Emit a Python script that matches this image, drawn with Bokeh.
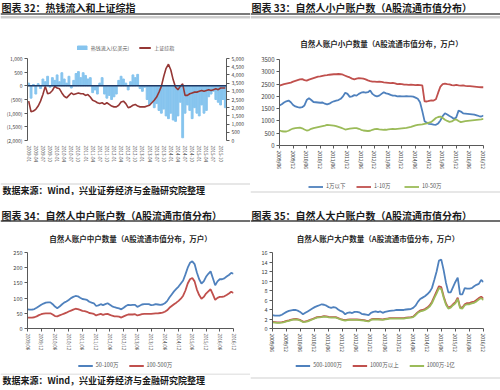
from bokeh.plotting import figure
from bokeh.models import (Range1d, LinearAxis, FixedTicker, NumeralTickFormatter, Span, Label,
                          Title, Legend, LegendItem)
from bokeh.layouts import column, row
from bokeh.embed import file_html
from bokeh.resources import INLINE

FONT = "Noto Sans CJK SC"
NAN = float("nan")

# ---------------- data: chart 32 (hot money inflow, SSE composite) ----------------
labels32 = ["2009-01", "2009-04", "2009-07", "2009-10", "2010-01", "2010-04", "2010-07", "2010-10",
            "2011-01", "2011-04", "2011-07", "2011-10", "2012-01", "2012-04", "2012-07", "2012-10",
            "2013-01", "2013-04", "2013-07", "2013-10", "2014-01", "2014-04", "2014-07", "2014-10",
            "2015-01", "2015-04", "2015-07", "2015-10"]
inflow = [100, -450, 50, -300, 80, -100, 250, 150, 350, -50,
          300, 200, 400, 150, 480, 250, 100, 350, -80, 200,
          450, 520, 300, 480, 380, 250, 300, -250, -150, -300,
          100, 300, -300, -450, -350, -500, -400, -300, 200, 350,
          250, 100, -150, 150, 400, 300, 420, -100, -200, -50,
          -500, -700, -600, -800, -650, -900, -1000, -850, -1100, -1200,
          -1000, -1250, -1300, -1100, -600, -1900, -1000, -700, -900, -1200,
          -800, -1000, -1100, -700, -1000, -900, -400, -300, -200, -500,
          -600, -700, -500, -800]
sse = [2400, 1750, 1800, 1900, 2100, 2400, 2800, 3300, 2850, 2900,
       3050, 3300, 3200, 3150, 2900, 2700, 2600, 2750, 2900, 2800,
       2850, 2900, 2850, 2850, 2750, 2800, 2650, 2450, 2400, 2300,
       2250, 2300, 2200, 2300, 2200, 2100, 2050, 2050, 2150, 2350,
       2400, 2250, 2000, 2050, 2150, 2200, 2100, 2050, 2050, 2050,
       2100, 2150, 2300, 2450, 2650, 2950, 3300, 3900, 4400, 4650,
       4300, 3700, 3250, 3100, 3300, 3450, 2750, 2750, 2850, 2900,
       2950, 2950, 3000, 3050, 3000, 3050, 3100, 3050, 3100, 3150,
       3100, 3200, 3200, 3200]
idx32 = list(range(len(inflow)))

# ---------------- data: charts 33-35 (monthly, 2009/06 - 2016/12) ----------------
tick_labels = ["2009/06", "2009/12", "2010/06", "2010/12", "2011/06", "2011/12", "2012/06", "2012/12",
               "2013/06", "2013/12", "2014/06", "2014/12", "2015/06", "2015/12", "2016/06", "2016/12"]

small_blue = [1630, 1680, 1750, 1800, 1830, 1760, 1650, 1590, 1560, 1540,
              1560, 1630, 1850, 1920, 1850, 1770, 1760, 1750, 1740, 1750,
              1700, 1670, 1700, 1760, 1800, 1830, 1850, 1900, 2000, 2150,
              2100, 1980, 2000, 2050, 2030, 2100, 2150, 2170, 2150, 2170,
              2240, 2100, 2030, 2000, 2030, 2100, 2170, 2120, 2100, 2060,
              2030, 2030, 2000, 2010, 2000, 2000, 2010, 2000, 2000, 1990,
              1950, 1900, 1760, 1400, 990, 930, 880, 870, 850, 840,
              900, 1020, 1200, 1310, 1260, 1200, 1150, 1080, 1150, 1420,
              1380, 1310, 1300, 1290, 1280, 1270, 1260, 1230, 1200, 1180,
              1220]
small_red = [2440, 2470, 2500, 2520, 2540, 2560, 2600, 2630, 2660, 2690,
             2700, 2660, 2640, 2680, 2710, 2740, 2770, 2800, 2810, 2830,
             2850, 2860, 2880, 2890, 2900, 2900, 2910, 2900, 2880, 2840,
             2800, 2770, 2720, 2690, 2720, 2740, 2730, 2720, 2690, 2650,
             2620, 2600, 2600, 2590, 2600, 2590, 2570, 2560, 2550, 2540,
             2550, 2530, 2500, 2510, 2500, 2480, 2480, 2470, 2480, 2470,
             2460, 2470, 2460, 2450, 1800, 1790, 1820, 1840, 1830, 1880,
             2150, 2400, 2500, 2520, 2500, 2490, 2460, 2450, 2470, 2450,
             2440, 2450, 2430, 2420, 2420, 2410, 2400, 2390, 2380, 2370,
             2370]
small_green = [610, 580, 570, 570, 600, 650, 690, 710, 720, 730,
               700, 650, 610, 630, 680, 710, 730, 750, 770, 790,
               810, 840, 830, 820, 810, 790, 760, 730, 690, 650,
               670, 690, 700, 710, 710, 680, 640, 610, 600, 590,
               600, 640, 670, 680, 660, 650, 640, 640, 660, 670,
               680, 670, 680, 690, 700, 710, 720, 740, 760, 790,
               820, 840, 850, 860, 880, 900, 930, 960, 1040, 1120,
               1160, 1180, 1120, 1050, 1000, 960, 980, 1040, 1060, 1000,
               950, 970, 990, 1000, 1010, 1020, 1030, 1040, 1050, 1060,
               1080]
mid_50_100 = [63, 62, 62, 64, 68, 73, 78, 82, 85, 86,
              86, 80, 72, 67, 72, 79, 85, 89, 94, 100,
              104, 107, 106, 101, 97, 96, 94, 88, 85, 83,
              74, 76, 80, 77, 80, 83, 78, 73, 70, 68,
              66, 63, 68, 74, 78, 77, 78, 78, 71, 75,
              79, 80, 80, 80, 77, 78, 80, 79, 78, 79,
              83, 90, 102, 112, 122, 130, 138, 148, 158, 178,
              200, 216, 221, 212, 184, 162, 148, 155, 170, 180,
              188, 165, 142, 155, 162, 162, 165, 171, 176, 183,
              180]
mid_100_500 = [36, 36, 36, 37, 40, 44, 47, 49, 50, 50,
               50, 46, 41, 40, 43, 46, 49, 52, 56, 59,
               62, 65, 64, 61, 58, 57, 55, 51, 50, 48,
               43, 46, 48, 45, 47, 48, 45, 42, 40, 40,
               39, 36, 40, 43, 46, 46, 46, 47, 43, 45,
               47, 48, 48, 48, 48, 49, 50, 50, 51, 52,
               55, 60, 68, 74, 80, 85, 91, 98, 108, 125,
               148, 162, 166, 155, 128, 110, 98, 104, 115, 122,
               129, 112, 94, 101, 104, 104, 106, 110, 115, 121,
               117]
big_500_1000 = [2.8, 2.7, 2.7, 2.7, 2.9, 3.2, 3.5, 3.7, 3.8, 3.9,
                3.9, 3.7, 3.4, 3.0, 3.3, 3.6, 3.9, 4.2, 4.5, 4.7,
                4.9, 5.1, 5.0, 4.8, 4.5, 4.35, 4.5, 4.4, 4.0, 3.7,
                3.5, 3.0, 3.3, 3.4, 3.25, 3.5, 3.5, 3.4, 3.1, 3.0,
                2.9, 2.8, 3.3, 3.5, 3.6, 3.45, 3.6, 3.3, 3.5, 3.6,
                3.7, 3.75, 3.8, 3.9, 3.9, 3.9, 3.9, 4.0, 4.05, 4.1,
                4.35, 4.8, 5.6, 6.2, 6.5, 6.8, 7.2, 7.7, 8.5, 10.2,
                12.0, 14.3, 14.5, 12.3, 9.6, 7.6, 7.6, 8.7, 9.8, 10.7,
                7.2, 7.2, 8.5, 8.4, 8.4, 8.5, 8.9, 9.2, 9.4, 10.2,
                9.8]
big_1000_up = [1.4, 1.35, 1.3, 1.3, 1.35, 1.45, 1.6, 1.7, 1.85, 1.95,
               2.0, 1.9, 1.75, 1.45, 1.5, 1.6, 1.8, 2.0, 2.2, 2.4,
               2.45, 2.5, 2.6, 2.55, 2.45, 2.4, 2.4, 2.4, 2.2, 2.0,
               1.85, 1.75, 1.85, 1.9, 1.9, 1.9, 1.9, 1.85, 1.8, 1.75,
               1.65, 1.6, 1.9, 2.0, 2.0, 2.0, 1.95, 1.9, 2.0, 2.1,
               2.2, 2.2, 2.2, 2.2, 2.2, 2.2, 2.2, 2.3, 2.35, 2.4,
               2.5, 2.95, 3.45, 3.8, 3.9, 4.1, 4.4, 4.85, 5.6, 6.7,
               7.8, 8.9, 8.7, 6.8, 5.25, 4.4, 4.6, 5.1, 5.55, 6.5,
               4.5, 4.4, 5.1, 5.35, 5.35, 5.55, 5.65, 6.0, 6.4, 6.7,
               6.3]
big_1000_1yi = [1.3, 1.25, 1.2, 1.2, 1.25, 1.35, 1.5, 1.6, 1.75, 1.85,
                1.9, 1.8, 1.65, 1.35, 1.4, 1.5, 1.7, 1.9, 2.1, 2.3,
                2.35, 2.4, 2.5, 2.45, 2.35, 2.3, 2.3, 2.3, 2.1, 1.9,
                1.75, 1.65, 1.75, 1.8, 1.8, 1.8, 1.8, 1.75, 1.7, 1.65,
                1.55, 1.5, 1.8, 1.9, 1.9, 1.9, 1.85, 1.8, 1.9, 2.0,
                2.1, 2.1, 2.1, 2.1, 2.1, 2.1, 2.1, 2.2, 2.25, 2.3,
                2.4, 2.8, 3.3, 3.6, 3.7, 3.9, 4.2, 4.6, 5.3, 6.4,
                7.4, 8.5, 8.3, 6.5, 5.0, 4.2, 4.4, 4.9, 5.3, 6.2,
                4.3, 4.2, 4.9, 5.1, 5.1, 5.3, 5.4, 5.7, 6.1, 6.4,
                6.0]
months = list(range(len(small_blue)))

BLUE, RED, GREEN = "#4f81bd", "#c0504d", "#9bbb59"
BAR, SSEC = "#86c4ee", "#953735"
AX = "#595959"
BOX = "#cfcfcf"


def deco(w, h):
    p = figure(width=w, height=h, x_range=Range1d(0, w), y_range=Range1d(h, 0),
               toolbar_location=None, output_backend="svg", title=None,
               x_axis_location=None, y_axis_location=None, min_border=0, frame_align=False)
    p.grid.visible = False
    p.outline_line_color = None
    return p


def add_rules(p, rules):
    for loc, col, lw in rules:
        p.add_layout(Span(location=loc, dimension="width", line_color=col, line_width=lw))


def header(w, h, text, ty, rules):
    p = deco(w, h)
    p.add_layout(Label(x=1, y=ty, text=text, text_baseline="middle", text_align="left",
                       text_font=FONT, text_font_size="10px", text_font_style="bold",
                       text_color="#1a1a1a"))
    add_rules(p, rules)
    return p


def source(w, h, ty, line_y):
    p = deco(w, h)
    add_rules(p, [(line_y, BOX, 1)])
    p.add_layout(Label(x=2, y=ty, text="数据来源：Wind，兴业证券经济与金融研究院整理",
                       text_baseline="middle", text_align="left", text_font=FONT,
                       text_font_size="9px", text_font_style="bold", text_color="#1a1a1a"))
    return p


def legend_fig(w, h, entries, loc, size="5.5px", gw=15, rules=()):
    """entries: (label, kind, color) -- legend keys use stand-in renderers that draw nothing."""
    p = deco(w, h)
    items = []
    for lab, kind, col in entries:
        if kind == "bar":
            r = p.vbar(x=[NAN], top=[NAN], width=1, color=col)
        else:
            r = p.line(x=[NAN], y=[NAN], line_color=col, line_width=1.8)
        items.append(LegendItem(label=lab, renderers=[r]))
    lg = Legend(items=items, orientation="horizontal", location=loc,
                label_text_font=FONT, label_text_font_size=size, label_text_color="#555555",
                glyph_width=gw, glyph_height=5, spacing=10, padding=0, margin=1,
                label_standoff=3, border_line_color=None, background_fill_alpha=0)
    p.add_layout(lg)
    add_rules(p, rules)
    return p


def chart(w, h, left, right, top, bottom, xr, yr):
    p = figure(width=w, height=h, x_range=xr, y_range=yr, toolbar_location=None,
               output_backend="svg", title=None, min_border_left=left, min_border_right=right,
               min_border_top=top, min_border_bottom=bottom, frame_align=False)
    p.grid.visible = False
    p.outline_line_color = None
    p.background_fill_color = "white"
    return p


def style_axis(ax, size):
    ax.axis_line_color = AX
    ax.major_tick_line_color = AX
    ax.minor_tick_line_color = None
    ax.major_tick_in = 0
    ax.major_tick_out = 3
    ax.major_label_text_font = FONT
    ax.major_label_text_font_size = size
    ax.major_label_text_color = "#404040"
    ax.major_label_standoff = 2


def month_axis(p, size="5px"):
    ax = p.xaxis[0]
    style_axis(ax, size)
    ax.ticker = FixedTicker(ticks=[6 * i for i in range(len(tick_labels))])
    ax.major_label_overrides = {6 * i: t for i, t in enumerate(tick_labels)}
    ax.major_label_orientation = "vertical"


def add_title(p, text, standoff):
    p.add_layout(Title(text=text, align="center", text_font=FONT, text_font_size="7.5px",
                       text_font_style="bold", text_color="#262626", standoff=standoff), "above")


# ---------------- chart 32 ----------------
hdr32 = header(250, 19, "图表 32：热钱流入和上证综指", 7,
               [(13.5, "#4d4d4d", 1.5), (16.5, "#9a9a9a", 1), (18.5, BOX, 1)])
leg32 = legend_fig(250, 33, [("热钱流入(亿美元)", "bar", BAR), ("上证综指", "line", SSEC)],
                   "bottom_center", "5px", 12)
c32 = chart(250, 129, 27, 24, 6, 41, Range1d(-0.5, len(inflow) - 0.5), Range1d(-2000, 1000))
c32.extra_y_ranges = {"sse": Range1d(0, 5000)}
c32.vbar(x=idx32, top=inflow, bottom=0, width=0.78, color=BAR)
c32.add_layout(Span(location=0, dimension="width", line_color="#1f3864", line_width=1.5))
c32.line(idx32, sse, y_range_name="sse", line_color=SSEC, line_width=1.6)
ly = c32.yaxis[0]
style_axis(ly, "5px")
ly.ticker = FixedTicker(ticks=[-2000, -1500, -1000, -500, 0, 500, 1000])
ly.formatter = NumeralTickFormatter(format="(0,0)")
ry = LinearAxis(y_range_name="sse", ticker=FixedTicker(ticks=[0, 500, 1000, 1500, 2000, 2500, 3000,
                                                              3500, 4000, 4500, 5000]),
                formatter=NumeralTickFormatter(format="0,0"))
style_axis(ry, "5px")
c32.add_layout(ry, "right")
bx = c32.xaxis[0]
style_axis(bx, "4.5px")
bx.axis_line_color = None
bx.major_tick_line_color = None
bx.ticker = FixedTicker(ticks=[3 * i for i in range(len(labels32))])
bx.major_label_overrides = {3 * i: t for i, t in enumerate(labels32)}
bx.major_label_orientation = "vertical"
src32 = source(250, 14, 8.5, 2.5)

# ---------------- chart 33 ----------------
hdr33 = header(250, 19, "图表 33：自然人小户账户数（A股流通市值分布）", 7,
               [(13.5, "#4d4d4d", 1.5), (16.5, "#9a9a9a", 1), (18.5, BOX, 1)])
c33 = chart(250, 162, 29, 17, 40, 36, Range1d(0, 90), Range1d(0, 3500))
c33.line(months, small_blue, line_color=BLUE, line_width=1.8)
c33.line(months, small_red, line_color=RED, line_width=1.8)
c33.line(months, small_green, line_color=GREEN, line_width=1.8)
style_axis(c33.yaxis[0], "6px")
c33.yaxis[0].ticker = FixedTicker(ticks=[0, 500, 1000, 1500, 2000, 2500, 3000, 3500])
month_axis(c33)
add_title(c33, "自然人账户小户数量（A股流通市值分布，万户）", 21)
leg33 = legend_fig(250, 14, [("1万以下", "line", BLUE), ("1-10万", "line", RED),
                             ("10-50万", "line", GREEN)], "top_center", rules=[(10.5, BOX, 1)])

# ---------------- chart 34 ----------------
hdr34 = header(250, 27, "图表 34：自然人中户账户数（A股流通市值分布）", 20, [(25.5, "#404040", 1.5)])
c34 = chart(250, 135, 27, 17, 24, 29, Range1d(0, 90), Range1d(0, 250))
c34.line(months, mid_50_100, line_color=BLUE, line_width=1.8)
c34.line(months, mid_100_500, line_color=RED, line_width=1.8)
style_axis(c34.yaxis[0], "5.5px")
c34.yaxis[0].ticker = FixedTicker(ticks=[0, 50, 100, 150, 200, 250])
month_axis(c34, "4.5px")
add_title(c34, "自然人账户中户数量（A股流通市值分布，万户）", 17)
leg34 = legend_fig(250, 16, [("50-100万", "line", BLUE), ("100-500万", "line", RED)], "center")
src34 = source(250, 17, 7, 0.5)

# ---------------- chart 35 ----------------
hdr35 = header(250, 27, "图表 35：自然人大户账户数（A股流通市值分布）", 20, [(25.5, "#404040", 1.5)])
c35 = chart(250, 135, 22, 17, 24, 29, Range1d(0, 90), Range1d(0, 16))
c35.line(months, big_500_1000, line_color=BLUE, line_width=1.8)
c35.line(months, big_1000_up, line_color=RED, line_width=1.8)
c35.line(months, big_1000_1yi, line_color=GREEN, line_width=1.8)
style_axis(c35.yaxis[0], "5.5px")
c35.yaxis[0].ticker = FixedTicker(ticks=[0, 2, 4, 6, 8, 10, 12, 14, 16])
month_axis(c35)
add_title(c35, "自然人账户大户数量（A股流通市值分布，万户）", 17)
leg35 = legend_fig(250, 16, [("500-1000万", "line", BLUE), ("1000万以上", "line", RED),
                             ("1000万-1亿", "line", GREEN)], "center")
foot35 = deco(250, 17)
add_rules(foot35, [(4.5, BOX, 1)])

layout = column(row(column(hdr32, leg32, c32, src32), column(hdr33, c33, leg33)),
                row(column(hdr34, c34, leg34, src34), column(hdr35, c35, leg35, foot35)))

html = file_html(layout, INLINE, title="charts")
html = html.replace("<head>", "<head><style>html,body{margin:0;padding:0;overflow:hidden}</style>", 1)
open("out.html", "w").write(html)
